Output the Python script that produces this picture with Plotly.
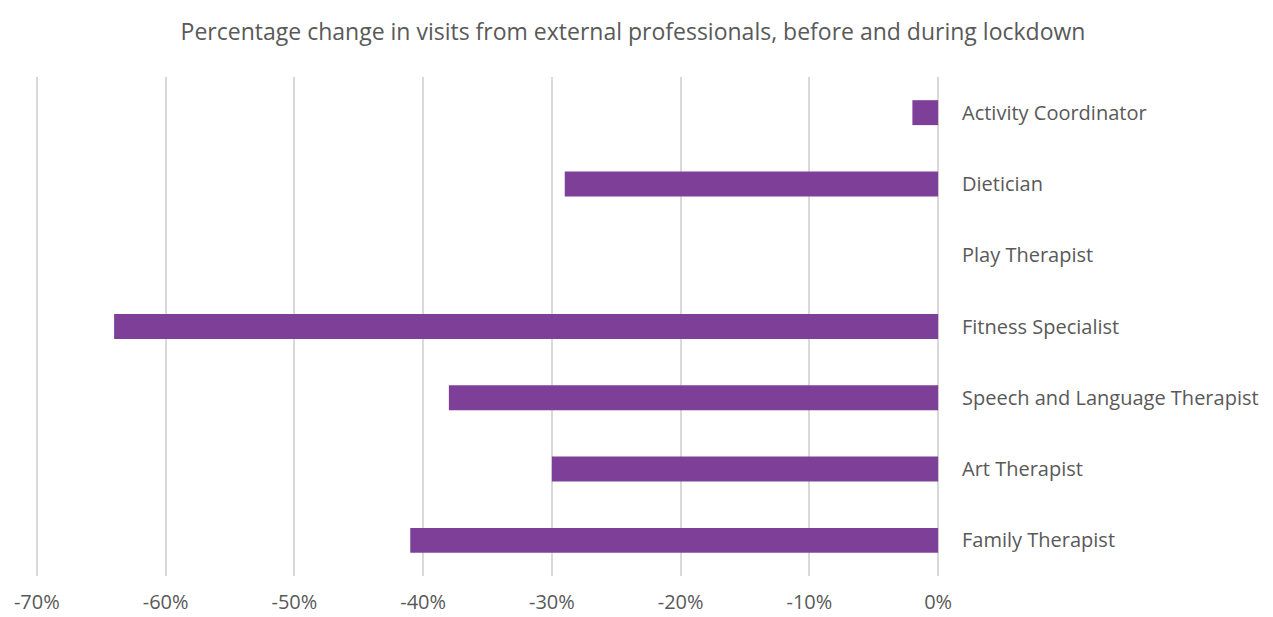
import plotly.graph_objects as go

categories = ["Family Therapist", "Art Therapist", "Speech and Language Therapist",
              "Fitness Specialist", "Play Therapist", "Dietician", "Activity Coordinator"]
values = [-0.41, -0.30, -0.38, -0.64, 0.0, -0.29, -0.02]
x_ticks = [-0.7, -0.6, -0.5, -0.4, -0.3, -0.2, -0.1, 0.0]
x_ticktext = ["-70%", "-60%", "-50%", "-40%", "-30%", "-20%", "-10%", "0%"]

FONT = "'Open Sans', sans-serif"
TXT = "#595959"

fig = go.Figure(go.Bar(
    x=values, y=categories, orientation="h",
    marker=dict(color="#7E3F98", line=dict(width=0)),
    hoverinfo="x+y",
))

W, H = 1265, 609
fig.update_layout(
    width=W, height=H,
    margin=dict(l=25, r=331, t=69, b=41, autoexpand=False),
    paper_bgcolor="white", plot_bgcolor="white",
    bargap=0.65,
    showlegend=False,
    font=dict(family=FONT, color=TXT, size=20),
    title=dict(
        text="Percentage change in visits from external professionals, before and during lockdown",
        x=625 / W, xref="container", xanchor="center",
        y=1 - 24 / H, yref="container", yanchor="middle",
        font=dict(family=FONT, size=23, color=TXT),
    ),
    xaxis=dict(
        range=[-0.703, 0.003], automargin=False,
        tickvals=x_ticks, ticktext=x_ticktext,
        showgrid=True, gridcolor="#D9D9D9", gridwidth=1.5,
        zeroline=True, zerolinecolor="#D9D9D9", zerolinewidth=1.5,
        showline=False, ticks="", ticklabelstandoff=12,
        tickfont=dict(size=20, color=TXT),
        fixedrange=True,
    ),
    yaxis=dict(
        side="right", categoryorder="array", categoryarray=categories,
        automargin=False,
        showgrid=False, zeroline=False, showline=False, ticks="",
        ticklabelstandoff=19,
        tickfont=dict(size=20, color=TXT),
        fixedrange=True,
    ),
)

fig.write_html("out.html")
